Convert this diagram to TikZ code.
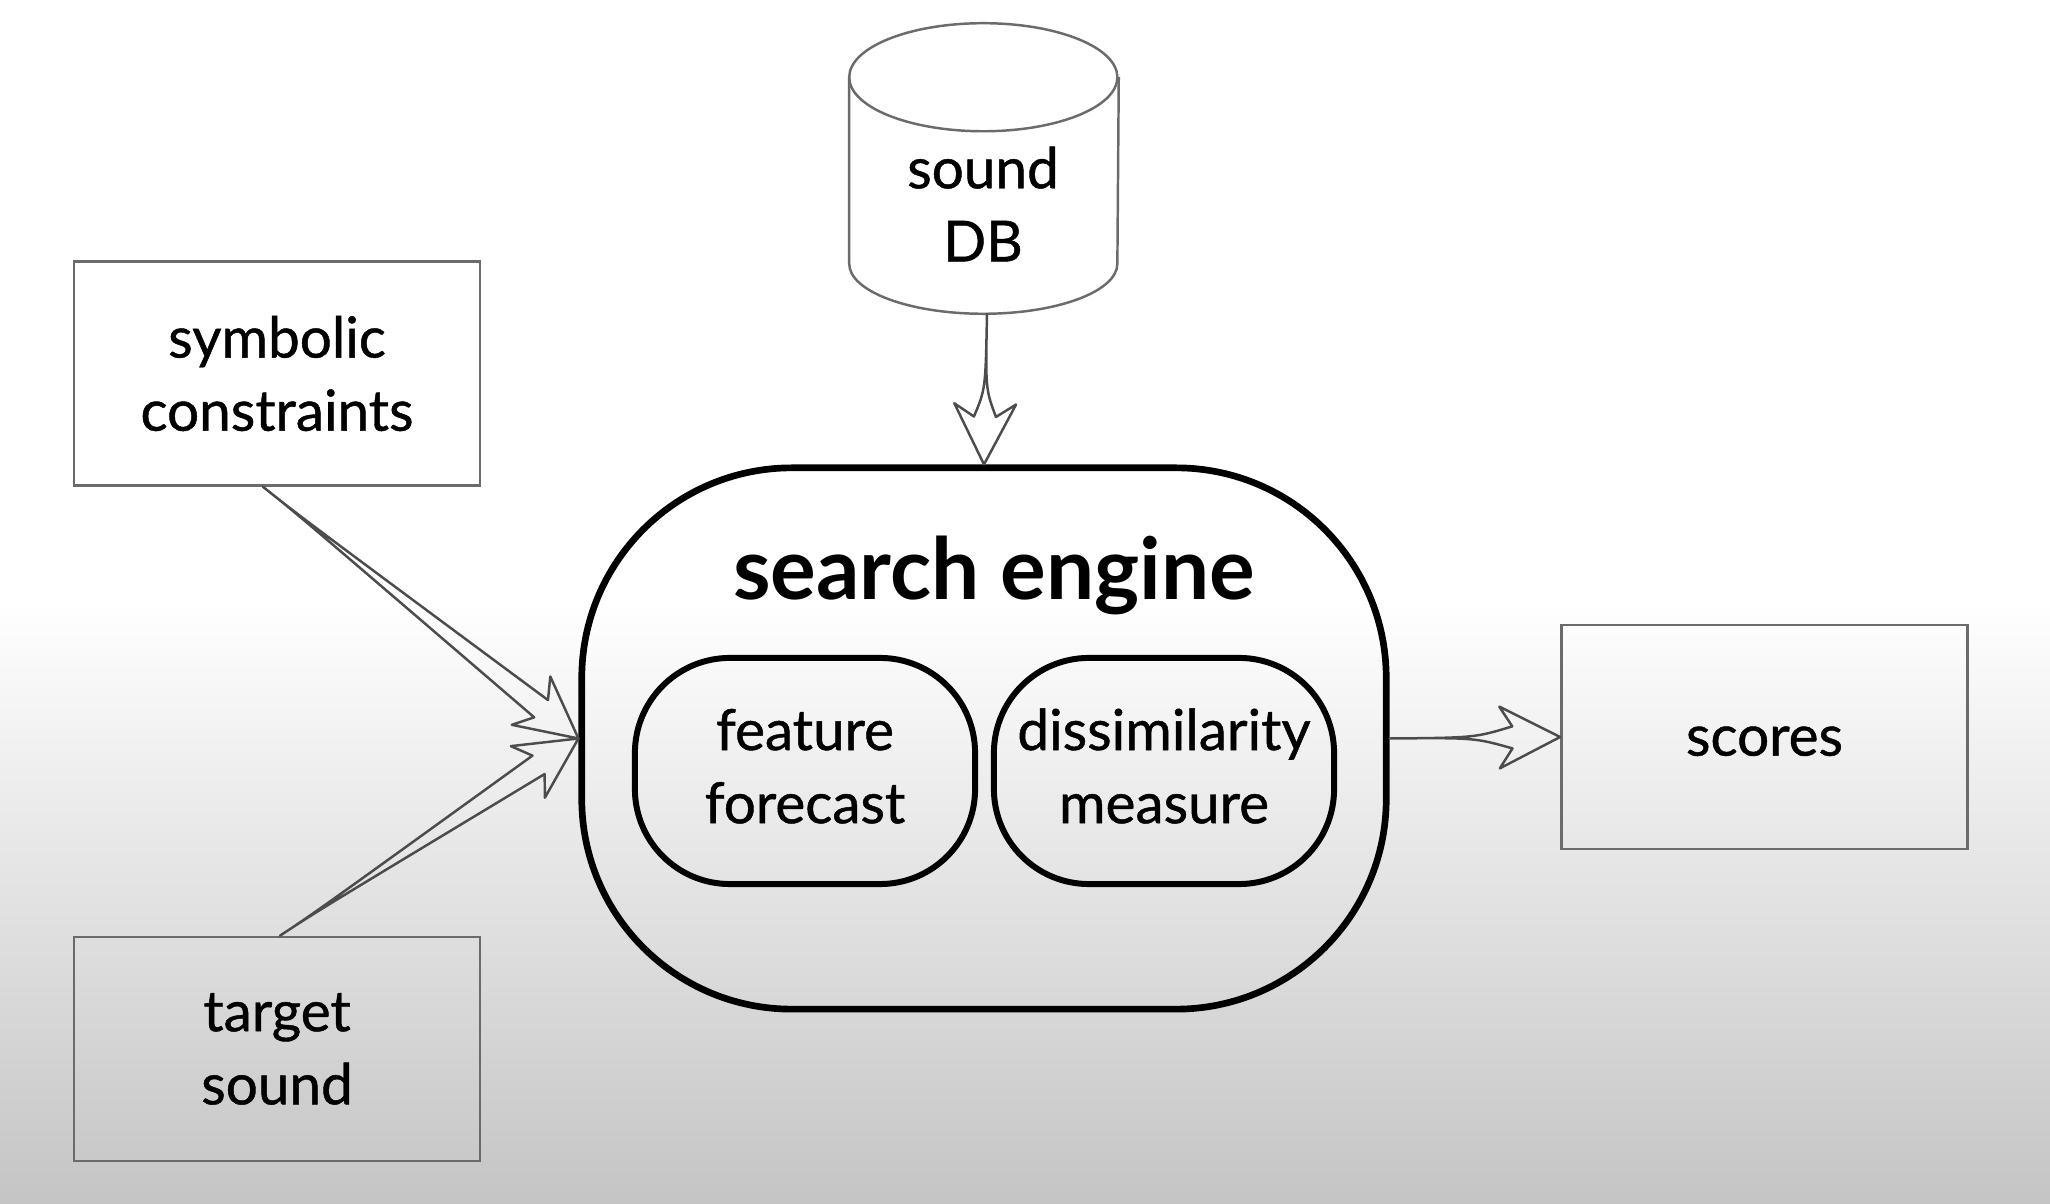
\documentclass[tikz,border=0pt]{standalone}
\usepackage{fontspec}
\setmainfont{Lato}
\newfontfamily\medfont{Lato}[FakeBold=0.8]
\usetikzlibrary{calc}
\definecolor{edgegray}{gray}{0.42}
\definecolor{flowgray}{gray}{0.3}
\newcommand{\lifted}[2]{\raisebox{#1}[\height][\depth]{\begin{tabular}{@{}c@{}}#2\end{tabular}}}
\tikzset{
  bodyfont/.style={font=\fontsize{16.1}{20.8}\selectfont\medfont},
  plainbox/.style={draw=edgegray,line width=.7pt,minimum width=4.06cm,minimum height=2.24cm,inner sep=0pt,align=center,bodyfont},
  engine/.style={draw=black,line width=1.9pt,rounded corners=2.1cm,minimum width=8.04cm,minimum height=5.41cm,inner sep=0pt},
  partbox/.style={draw=black,line width=1.7pt,rounded corners=.95cm,minimum width=3.40cm,minimum height=2.26cm,inner sep=0pt,align=center,bodyfont},
  flow/.style={draw=flowgray,line width=.7pt,line join=round},
  cyl/.style={draw=edgegray,line width=.7pt},
  dbframe/.style={minimum width=2.68cm,minimum height=2.89cm,inner sep=0pt},
  dblabel/.style={inner sep=0pt,align=center,bodyfont},
  title/.style={inner sep=0pt,font=\fontsize{24.3}{28}\selectfont\bfseries}
}
\newcommand{\openarrow}[3]{\draw[flow] (#1) .. controls ($(#1)!#3!(#2)$) .. ($(#2)!.49cm!13:(#1)$) -- ($(#2)!.68cm!27:(#1)$) -- (#2) -- ($(#2)!.68cm!-27:(#1)$) -- ($(#2)!.49cm!-13:(#1)$) .. controls ($(#1)!#3!(#2)$) .. cycle;}
\begin{document}
\begin{tikzpicture}[x=0.01cm,y=-0.01cm]
\useasboundingbox (0,0) rectangle (2050,1204);
\fill[white] (0,0) rectangle (2050,1204);
\shade[top color=white,bottom color=black!23] (0,600) rectangle (2050,1204);
\node[plainbox] (symbolic) at (277,373.5) {symbolic\\constraints};
\node[plainbox] (target) at (277,1049) {target\\sound};
\node[plainbox] (scores) at (1764.5,737) {\lifted{-.04cm}{scores}};
\node[engine] (engine) at (984,738.5) {};
\node[title] (enginetitle) at (994,575) {search engine};
\node[partbox] (feature) at (805,771) {\lifted{-.01cm}{feature\\forecast}};
\node[partbox] (dissim) at (1164,771) {\lifted{-.01cm}{dissimilarity\\measure}};
\node[dbframe] (db) at (984,168.5) {};
\draw[cyl] ([yshift=-.54cm]db.north west) arc[start angle=180,end angle=-180,x radius=1.34cm,y radius=.54cm];
\draw[cyl] ([yshift=-.54cm]db.north west) -- ([yshift=.5cm]db.south west) arc[start angle=180,end angle=360,x radius=1.34cm,y radius=.5cm] -- ([yshift=-.54cm]db.north east);
\node[dblabel] (dbtext) at (983,204) {sound\\DB};
\coordinate (symout) at ([xshift=-.14cm]symbolic.south);
\coordinate (tarout) at ([xshift=.03cm]target.north);
\coordinate (dbout) at ([xshift=.03cm]db.south);
\openarrow{symout}{engine.west}{.12}
\openarrow{tarout}{engine.west}{.12}
\openarrow{dbout}{engine.north}{.5}
\openarrow{engine.east}{scores.west}{.5}
\end{tikzpicture}
\end{document}
